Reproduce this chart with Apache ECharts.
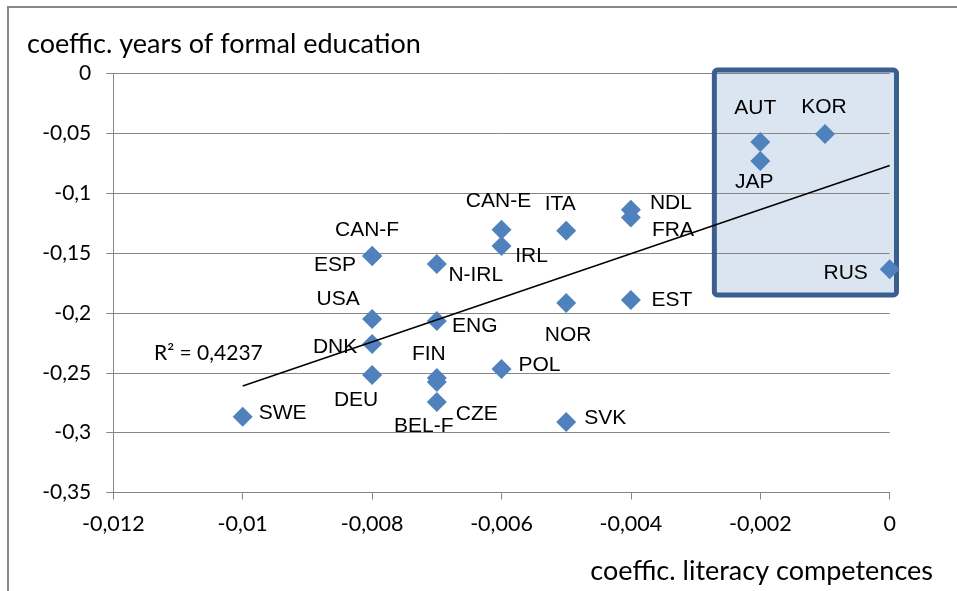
<!DOCTYPE html>
<html><head><meta charset="utf-8">
<script src="https://cdn.jsdelivr.net/npm/echarts@6/dist/echarts.min.js"></script>
<style>html,body{margin:0;padding:0;background:#fff}#c{width:957px;height:591px}</style>
</head><body><div id="c"></div>
<script>
// ---- data ----
const countries = ['SWE','CAN-F','ESP','USA','DNK','DEU','N-IRL','ENG','FIN','CZE','BEL-F','CAN-E','IRL','POL','ITA','NOR','SVK','NDL','FRA','EST','AUT','JAP','KOR','RUS'];
const literacyCoef = [-0.010,-0.008,-0.008,-0.008,-0.008,-0.008,-0.007,-0.007,-0.007,-0.007,-0.007,-0.006,-0.006,-0.006,-0.005,-0.005,-0.005,-0.004,-0.004,-0.004,-0.002,-0.002,-0.001,0];
const educationCoef = [-0.2867,-0.1525,-0.1525,-0.2051,-0.2260,-0.2519,-0.1592,-0.2068,-0.2544,-0.2577,-0.2745,-0.1306,-0.1441,-0.2469,-0.1314,-0.1917,-0.2911,-0.1139,-0.1203,-0.1893,-0.0572,-0.0731,-0.0505,-0.1635];
const r2Text = 'R² = 0,4237';
const yTitle = 'coeffic. years of formal education';
const xTitle = 'coeffic. literacy competences';
// highlighted region (data units)
const boxX = [-0.00271, 0.000105];
const boxY = [0.0029, -0.185];

// ---- label placement (style, px offsets from point centre) ----
const labelOffsets = {
  'SWE':[40,-4],'CAN-F':[-5,-26],'ESP':[-37,9],'USA':[-34,-20],'DNK':[-37,3],'DEU':[-16,25],
  'N-IRL':[39,11],'ENG':[38,5],'FIN':[-8,-24],'CZE':[40,32],'BEL-F':[-13,24],'CAN-E':[-3,-29],
  'IRL':[30,10],'POL':[38,-4],'ITA':[-6,-27],'NOR':[2,32],'SVK':[39,-4],'NDL':[40,-7],
  'FRA':[42,13],'EST':[41,0],'AUT':[-5,-34],'JAP':[-6,21],'KOR':[-1,-27],'RUS':[-44,4]
};

// least-squares trend line from the data
const n = literacyCoef.length;
const mx = literacyCoef.reduce((a,b)=>a+b,0)/n;
const my = educationCoef.reduce((a,b)=>a+b,0)/n;
let sxy=0, sxx=0;
for (let i=0;i<n;i++){ sxy += (literacyCoef[i]-mx)*(educationCoef[i]-my); sxx += (literacyCoef[i]-mx)**2; }
const slope = sxy/sxx, icpt = my - slope*mx;
const xMin = Math.min(...literacyCoef), xMax = Math.max(...literacyCoef);
const trend = [[xMin, icpt+slope*xMin],[xMax, icpt+slope*xMax]];

const fmt = v => { const r = Math.round(v*1e6)/1e6; return String(r).replace('.', ','); };
const gray = '#868686';
const tickFont = 'Lato';

const chart = echarts.init(document.getElementById('c'), null, {renderer:'canvas'});
const option = {
  animation:false,
  grid:{left:113.3, right:957-889.7, top:73.5, bottom:591-492.5, containLabel:false},
  xAxis:{type:'value', min:-0.012, max:0, interval:0.002,
    axisLine:{show:true, onZero:false, lineStyle:{color:gray, width:1}},
    axisTick:{show:true, length:7, lineStyle:{color:gray}},
    splitLine:{show:false},
    axisLabel:{formatter:fmt, color:'#000', fontFamily:tickFont, fontSize:21.5, margin:21}},
  yAxis:{type:'value', min:-0.35, max:0, interval:0.05,
    axisLine:{show:true, onZero:false, lineStyle:{color:gray, width:1}},
    axisTick:{show:true, length:7, lineStyle:{color:gray}},
    splitLine:{show:true, lineStyle:{color:gray, width:1}},
    axisLabel:{formatter:fmt, color:'#000', fontFamily:tickFont, fontSize:21, margin:22}},
  series:[
    {type:'scatter', symbol:'diamond', symbolSize:20, z:3,
     itemStyle:{color:'#4f81bd', opacity:1},
     emphasis:{disabled:true},
     label:{show:true, position:'inside', formatter:'{b}', color:'#000', fontFamily:'Liberation Sans', fontSize:21},
     data: countries.map((c,i)=>({name:c, value:[literacyCoef[i], educationCoef[i]], label:{offset:labelOffsets[c]}}))},
    {type:'line', data:trend, symbol:'none', z:4, silent:true,
     lineStyle:{color:'#000', width:1.5}}
  ]
};
chart.setOption(option);

const p1 = chart.convertToPixel({gridIndex:0}, [boxX[0], boxY[0]]);
const p2 = chart.convertToPixel({gridIndex:0}, [boxX[1], boxY[1]]);
chart.setOption({graphic:[
  {type:'rect', z:-1, shape:{x:p1[0], y:p1[1], width:p2[0]-p1[0], height:p2[1]-p1[1], r:3}, style:{fill:'#dbe5f1'}},
  {type:'rect', z:1, shape:{x:p1[0], y:p1[1], width:p2[0]-p1[0], height:p2[1]-p1[1], r:3}, style:{fill:'none', stroke:'#3a5f8e', lineWidth:5}},
  {type:'line', shape:{x1:8, y1:7, x2:957, y2:7}, style:{stroke:'#888', lineWidth:2}},
  {type:'line', shape:{x1:8, y1:6, x2:8, y2:591}, style:{stroke:'#888', lineWidth:2}},
  {type:'text', left:27, top:31, style:{text:yTitle, font:'27px Lato', fill:'#000'}},
  {type:'text', right:24, top:558, style:{text:xTitle, font:'27px Lato', fill:'#000'}},
  {type:'text', left:154, top:343, style:{text:r2Text, font:'21px Lato', fill:'#000'}}
]});
</script></body></html>
